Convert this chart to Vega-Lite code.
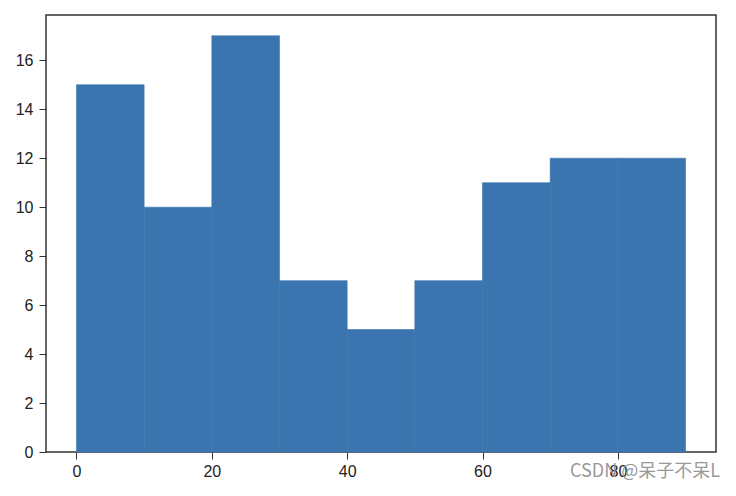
{
  "$schema": "https://vega.github.io/schema/vega-lite/v6.json",
  "autosize": "none",
  "width": 670,
  "height": 437,
  "padding": {"left": 46, "top": 15, "right": 20, "bottom": 44},
  "background": "white",
  "config": {
    "view": {"stroke": "#333333", "strokeWidth": 1.5},
    "font": "Liberation Sans"
  },
  "title": {
    "text": "CSDN @呆子不呆L",
    "orient": "bottom",
    "anchor": "end",
    "color": "#999999",
    "fontSize": 18,
    "fontWeight": "normal",
    "font": "Noto Sans CJK SC",
    "offset": -16,
    "dx": 4
  },
  "data": {
    "values": [
      {"start": 0, "end": 10, "count": 15},
      {"start": 10, "end": 20, "count": 10},
      {"start": 20, "end": 30, "count": 17},
      {"start": 30, "end": 40, "count": 7},
      {"start": 40, "end": 50, "count": 5},
      {"start": 50, "end": 60, "count": 7},
      {"start": 60, "end": 70, "count": 11},
      {"start": 70, "end": 80, "count": 12},
      {"start": 80, "end": 90, "count": 12}
    ]
  },
  "mark": {"type": "rect", "color": "#3b75af", "stroke": "#3b75af", "strokeWidth": 0.6},
  "encoding": {
    "x": {
      "field": "start",
      "type": "quantitative",
      "scale": {"domain": [-4.5, 94.5], "nice": false, "zero": false},
      "axis": {
        "title": null,
        "values": [0, 20, 40, 60, 80],
        "grid": false,
        "domain": false,
        "tickSize": 7,
        "tickColor": "#333333",
        "labelFontSize": 16,
        "labelColor": "#222222",
        "labelPadding": 4
      }
    },
    "x2": {"field": "end"},
    "y": {
      "field": "count",
      "type": "quantitative",
      "scale": {"domain": [0, 17.85], "nice": false},
      "axis": {
        "title": null,
        "values": [0, 2, 4, 6, 8, 10, 12, 14, 16],
        "grid": false,
        "domain": false,
        "tickSize": 7,
        "tickColor": "#333333",
        "labelFontSize": 16,
        "labelColor": "#222222",
        "labelPadding": 6
      }
    },
    "y2": {"datum": 0}
  }
}
